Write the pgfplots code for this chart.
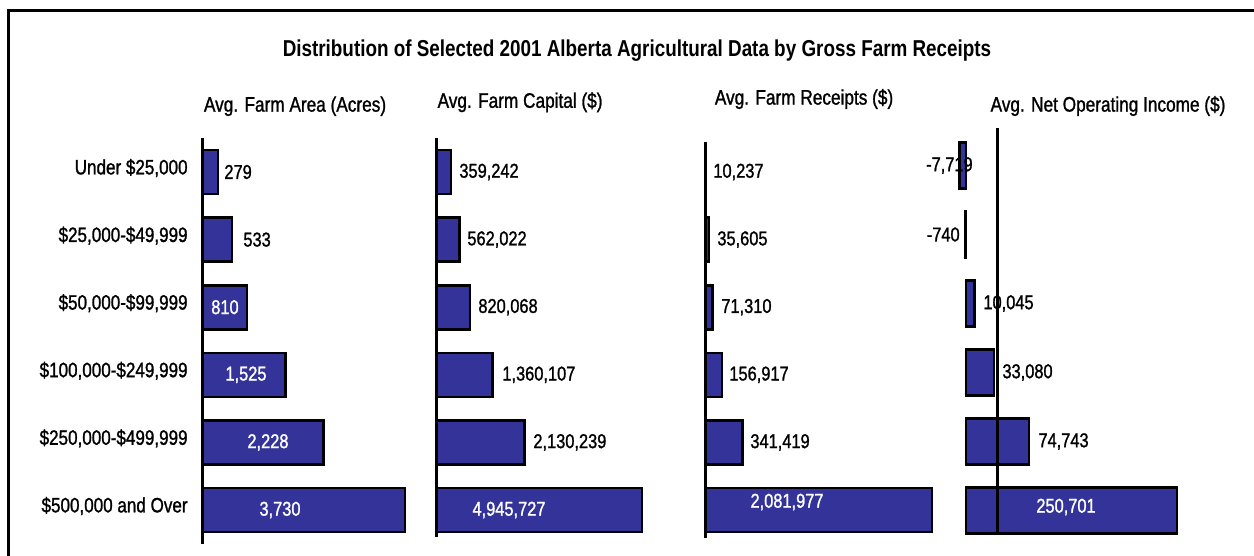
\documentclass[border=0pt]{standalone}
\usepackage{pgfplots}
\pgfplotsset{compat=1.18}
\usepackage{fontspec}
\setmainfont{Liberation Sans}[FakeStretch=0.82, FakeBold=1.2]
\newfontfamily\titlefont{Liberation Sans}[FakeStretch=0.82]
\definecolor{barblue}{RGB}{51,51,153}

\pgfplotsset{
  panel/.style={scale only axis, anchor=north west, height=202.8pt,
    ymin=-0.5, ymax=5.5, y dir=reverse,
    axis line style={draw=none}, xtick=\empty, ytick=\empty,
    major tick length=0pt, clip=false,
    title style={font=\fontsize{10.5}{12}\selectfont, anchor=center, inner sep=0pt}},
  bars/.style={xbar, bar shift=0pt, bar width=22pt, fill=barblue, draw=black, line width=1.3pt},
  axl/.style={black, line width=1.5pt, no marks},
}
\tikzset{vlab/.style={font=\fontsize{10}{12}\selectfont, inner sep=0pt}}

\begin{document}
\begin{tikzpicture}
\useasboundingbox (0,0) rectangle (627pt,-278pt);
\draw[line width=1.5pt] (4.25pt,-280pt) -- (4.25pt,-5.5pt) -- (630pt,-5.5pt);
\node[font=\titlefont\fontsize{11.5}{13}\selectfont\bfseries] at (318.5pt,-25.5pt)
  {Distribution of Selected 2001 Alberta Agricultural Data by Gross Farm Receipts};

% Panel 1
\begin{axis}[panel, at={(101.5pt,-69.1pt)}, width=108.3pt, xmin=0, xmax=4000,
  title={Avg. Farm Area (Acres)}, title style={at={(0.425,1)}, yshift=10pt},
  ytick={0,1,2,3,4,5},
  yticklabels={{Under \$25,000}, {\$25,000-\$49,999}, {\$50,000-\$99,999}, {\$100,000-\$249,999}, {\$250,000-\$499,999}, {\$500,000 and Over}},
  yticklabel style={font=\fontsize{10.4}{12}\selectfont, anchor=east, inner sep=0pt, xshift=-7.5pt, yshift=2pt}]
\addplot[bars] coordinates {(279,0) (533,1) (810,2) (1525,3) (2228,4) (3730,5)};
\addplot[axl] coordinates {(0,-0.5) (0,5.5)};
\node[vlab, anchor=west] at (axis cs:388,0) {279};
\node[vlab, anchor=west] at (axis cs:739,1) {533};
\node[vlab, text=white] at (axis cs:406,2) {810};
\node[vlab, text=white] at (axis cs:794,3) {1,525};
\node[vlab, text=white] at (axis cs:1200,4) {2,228};
\node[vlab, text=white] at (axis cs:1422,5) {3,730};
\end{axis}

% Panel 2
\begin{axis}[panel, at={(218pt,-69.1pt)}, width=114.55pt, xmin=0, xmax=5500000,
  title={Avg. Farm Capital (\$)}, title style={at={(0.367,1)}, yshift=12pt}]
\addplot[bars] coordinates {(359242,0) (562022,1) (820068,2) (1360107,3) (2130239,4) (4945727,5)};
\addplot[axl] coordinates {(0,-0.5) (0,5.4)};
\node[vlab, anchor=west] at (axis cs:552200,0) {359,242};
\node[vlab, anchor=west] at (axis cs:744300,1) {562,022};
\node[vlab, anchor=west] at (axis cs:1008400,2) {820,068};
\node[vlab, anchor=west] at (axis cs:1584600,3) {1,360,107};
\node[vlab, anchor=west] at (axis cs:2329000,4) {2,130,239};
\node[vlab, text=white] at (axis cs:1752700,5) {4,945,727};
\end{axis}

% Panel 3
\begin{axis}[panel, at={(352.5pt,-69.1pt)}, width=125.4pt, xmin=0, xmax=2300000,
  title={Avg. Farm Receipts (\$)}, title style={at={(0.395,1)}, yshift=13.6pt}]
\addplot[bars] coordinates {(10237,0) (35605,1) (71310,2) (156917,3) (341419,4) (2081977,5)};
\addplot[axl] coordinates {(0,-0.45) (0,5.42)};
\node[vlab, anchor=west] at (axis cs:73400,0) {10,237};
\node[vlab, anchor=west] at (axis cs:110000,1) {35,605};
\node[vlab, anchor=west] at (axis cs:146700,2) {71,310};
\node[vlab, anchor=west] at (axis cs:220100,3) {156,917};
\node[vlab, anchor=west] at (axis cs:412700,4) {341,419};
\node[vlab, text=white, yshift=4pt] at (axis cs:752100,5) {2,081,977};
\end{axis}

% Panel 4
\begin{axis}[panel, at={(470.4pt,-65.5pt)}, width=130.45pt, height=207pt, xmin=-30000, xmax=280000,
  title={Avg. Net Operating Income (\$)}, title style={at={(0.641,1)}, yshift=6.5pt}]
\addplot[bars, bar width=23pt] coordinates {(-7719,0) (-740,1) (10045,2) (33080,3) (74743,4) (250701,5)};
\addplot[axl] coordinates {(36833,-0.54) (36833,5.34)};
\node[vlab, anchor=east] at (axis cs:8317,0) {-7,719};
\node[vlab, anchor=east] at (axis cs:-7129,1) {-740};
\node[vlab, anchor=west] at (axis cs:20200,2) {10,045};
\node[vlab, anchor=west] at (axis cs:42800,3) {33,080};
\node[vlab, anchor=west] at (axis cs:85550,4) {74,743};
\node[vlab, text=white, yshift=1.75pt] at (axis cs:118800,5) {250,701};
\end{axis}
\end{tikzpicture}
\end{document}
